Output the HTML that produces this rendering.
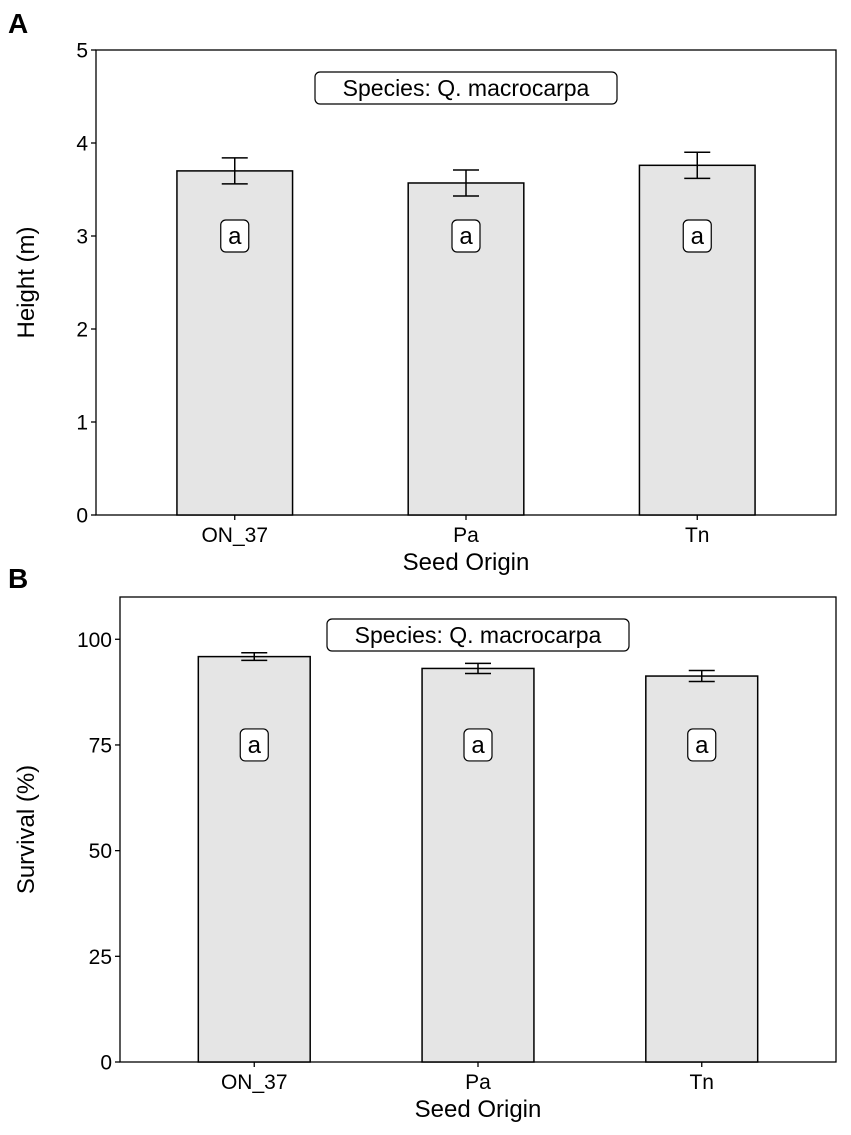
<!DOCTYPE html>
<html><head><meta charset="utf-8"><style>
html,body{margin:0;padding:0;background:#fff;}
svg text{font-family:"Liberation Sans",Arial,sans-serif;fill:#000;}
</style></head><body>
<svg id="chart" width="851" height="1130" viewBox="0 0 851 1130" xmlns="http://www.w3.org/2000/svg"></svg>
<script>
const categories = ["ON_37","Pa","Tn"];
const heightVals = [3.70,3.57,3.76];
const heightLo = [3.56,3.43,3.62];
const heightHi = [3.84,3.71,3.90];
const heightTicks = [0,1,2,3,4,5];
const survVals = [95.9,93.1,91.3];
const survLo = [95.0,91.9,90.0];
const survHi = [96.8,94.3,92.6];
const survTicks = [0,25,50,75,100];
const letters = ["a","a","a"];

const NS="http://www.w3.org/2000/svg";
const svg=document.getElementById('chart');
function mk(tag,attrs,parent,text){const e=document.createElementNS(NS,tag);for(const k in attrs)e.setAttribute(k,attrs[k]);if(text!==undefined)e.textContent=text;(parent||svg).appendChild(e);return e;}

function panel(cfg){
  const g=mk('g',{});
  
  
  const {x0,x1,y0,y1,ymax}=cfg;
  const yS=v=>y1-(v/ymax)*(y1-y0);
  const unit=(x1-x0)/(categories.length-1+1.2);
  const xS=i=>x0+unit*(i+0.6);
  const barW=unit*0.5;
  const fr=mk('rect',{x:x0,y:y0,width:x1-x0,height:y1-y0,fill:'#fff',stroke:'#000','stroke-width':1.3},g);
  
  
  cfg.ticks.forEach(t=>{
    const y=yS(t);
    mk('line',{x1:x0-5,x2:x0,y1:y,y2:y,stroke:'#000','stroke-width':1.3},g);
    const tl=mk('text',{x:x0-8,y:y+7.5,'text-anchor':'end','font-size':21},g,String(t));
    
    
  });
  categories.forEach((c,i)=>{
    const cx=xS(i);
    const b=mk('rect',{x:cx-barW/2,y:yS(cfg.vals[i]),width:barW,height:y1-yS(cfg.vals[i]),fill:'#e5e5e5',stroke:'#000','stroke-width':1.5},g);
    
    
    const eb=mk('path',{d:`M${cx-13},${yS(cfg.hi[i])}H${cx+13}M${cx},${yS(cfg.hi[i])}V${yS(cfg.lo[i])}M${cx-13},${yS(cfg.lo[i])}H${cx+13}`,stroke:'#000','stroke-width':1.5,fill:'none'},g);
    
    
    const ly=yS(cfg.letterY);
    const lb=mk('rect',{x:cx-14,y:ly-16,width:28,height:32,rx:5,fill:'#fff',stroke:'#000','stroke-width':1.2},g);
    
    
    const lt=mk('text',{x:cx,y:ly+8,'text-anchor':'middle','font-size':24},g,letters[i]);
    
    
    mk('line',{x1:cx,x2:cx,y1:y1,y2:y1+5,stroke:'#000','stroke-width':1.3},g);
    const xl=mk('text',{x:cx,y:y1+27,'text-anchor':'middle','font-size':21},g,c);
    
    
  });
  const xt=mk('text',{x:(x0+x1)/2,y:y1+55,'text-anchor':'middle','font-size':24},g,'Seed Origin');
  
  
  const ytx=cfg.ytx, yty=(y0+y1)/2;
  const yt=mk('text',{x:ytx,y:yty,'text-anchor':'middle','font-size':24,transform:`rotate(-90 ${ytx} ${yty})`},g,cfg.ytitle);
  
  
  const cx=(x0+x1)/2;
  const sb=mk('rect',{x:cx-151,y:y0+22,width:302,height:32,rx:5,fill:'#fff',stroke:'#000','stroke-width':1.2},g);
  
  
  const st=mk('text',{x:cx,y:y0+46,'text-anchor':'middle','font-size':23},g,'Species: Q. macrocarpa');
  
  
  const pl=mk('text',{x:8,y:cfg.letterTop,'font-size':28,'font-weight':'bold'},g,cfg.panel);
  
  
}
panel({name:'panel-a-height',x0:96,x1:836,y0:50,y1:515,ymax:5,ticks:heightTicks,vals:heightVals,lo:heightLo,hi:heightHi,letterY:3,ytitle:'Height (m)',ytx:34,panel:'A',letterTop:33});
panel({name:'panel-b-survival',x0:120,x1:836,y0:597,y1:1062,ymax:110,ticks:survTicks,vals:survVals,lo:survLo,hi:survHi,letterY:75,ytitle:'Survival (%)',ytx:34,panel:'B',letterTop:588});
</script>
</body></html>
